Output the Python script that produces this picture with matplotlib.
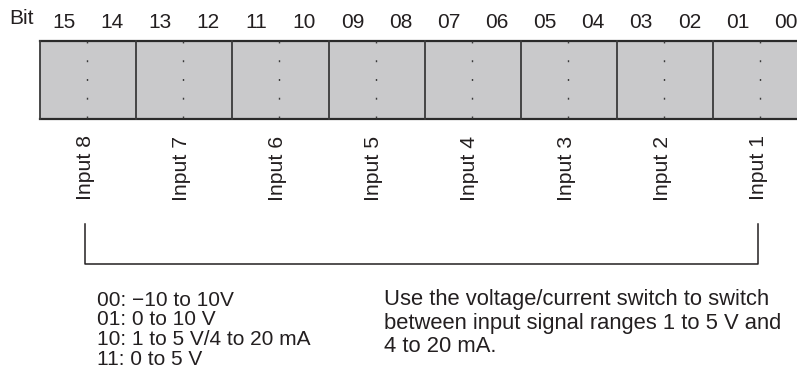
import matplotlib.pyplot as plt
from matplotlib.patches import Rectangle

plt.rcParams['font.family'] = ['Liberation Sans', 'DejaVu Sans']

# Данные схемы
bits = ['15', '14', '13', '12', '11', '10', '09', '08',
        '07', '06', '05', '04', '03', '02', '01', '00']
inputs = ['Input 8', 'Input 7', 'Input 6', 'Input 5',
          'Input 4', 'Input 3', 'Input 2', 'Input 1']
range_codes = ['00: \u221210 to 10V', '01: 0 to 10 V',
               '10: 1 to 5 V/4 to 20 mA', '11: 0 to 5 V']
switch_note = ['Use the voltage/current switch to switch',
               'between input signal ranges 1 to 5 V and',
               '4 to 20 mA.']

W, H = 797, 369
ink = '#231f20'

fig = plt.figure(figsize=(W / 100, H / 100), dpi=100)
ax = fig.add_axes([0, 0, 1, 1])
ax.set_xlim(0, W)
ax.set_ylim(H, 0)
ax.axis('off')

# Геометрия регистра (в пикселях)
x0, gw = 40, 96.2
y_top, y_bot = 41, 119
n = len(inputs)

# Серый прямоугольник регистра
ax.add_patch(Rectangle((x0, y_top), gw * n, y_bot - y_top,
                       facecolor='#c9c9cb', edgecolor='none'))
ax.plot([x0, x0 + gw * n], [y_top, y_top], color='#2a2a2a', lw=1.6)
ax.plot([x0, x0 + gw * n], [y_bot, y_bot], color='#2a2a2a', lw=1.6)

for i in range(n + 1):
    ax.plot([x0 + i * gw, x0 + i * gw], [y_top, y_bot], color='#3a3a3a', lw=1.3)

# Пунктир посередине каждой группы
for i in range(n):
    cx = x0 + (i + 0.5) * gw - 1
    ax.plot([cx, cx], [y_top, y_bot], color='#3a3a3a', lw=1.0,
            linestyle=(0, (1.4, 12.1)))

# Номера битов
ax.text(9, 19, 'Bit', fontsize=15, color=ink, ha='left', va='center')
for j, b in enumerate(bits):
    bx = x0 + (j + 0.5) * gw / 2
    ax.text(bx, 22, b, fontsize=15, color=ink, ha='center', va='center')

# Подписи входов
centers = [x0 + (i + 0.5) * gw - 3 for i in range(n)]
for cx, lab in zip(centers, inputs):
    ax.text(cx, 168, lab, fontsize=15.3, color=ink, rotation=90,
            ha='center', va='center')

# Скобка
ax.plot([centers[0], centers[0], centers[-1], centers[-1]],
        [224, 264, 264, 224], color=ink, lw=1.1)

# Текст с диапазонами
for k, line in enumerate(range_codes):
    ax.text(97, 305.5 + k * 19.7, line, fontsize=15, color=ink,
            ha='left', va='baseline')

for k, line in enumerate(switch_note):
    ax.text(384, 305.5 + k * 23, line, fontsize=15.8, color=ink,
            ha='left', va='baseline')

fig.savefig('out.png', dpi=100)
